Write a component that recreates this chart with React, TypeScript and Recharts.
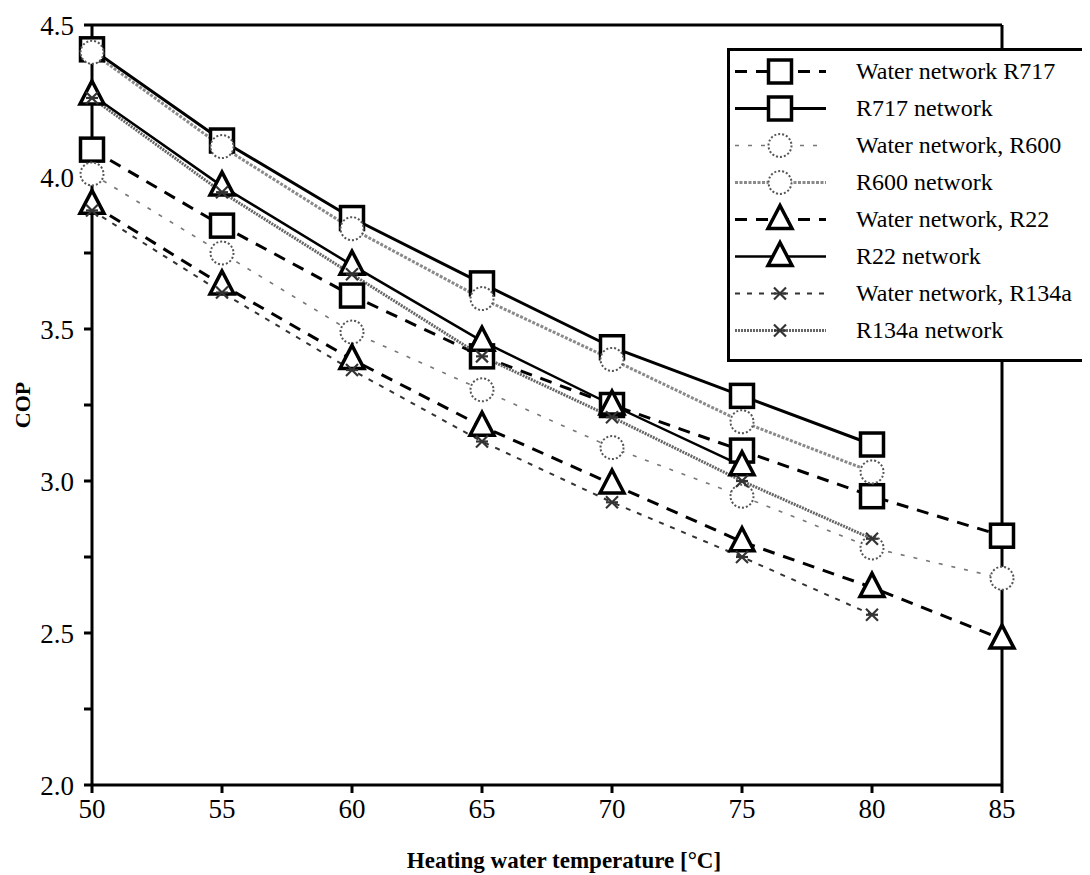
import React from "react";
import { Line, LineChart, ReferenceLine, XAxis, YAxis } from "recharts";

const temps = [50, 55, 60, 65, 70, 75, 80, 85];
const waterR717 = [4.09, 3.84, 3.61, 3.41, 3.25, 3.1, 2.95, 2.82];
const r717Net = [4.42, 4.12, 3.865, 3.65, 3.44, 3.28, 3.12, null];
const waterR600 = [4.01, 3.75, 3.49, 3.3, 3.11, 2.95, 2.78, 2.68];
const r600Net = [4.41, 4.1, 3.83, 3.6, 3.4, 3.195, 3.03, null];
const waterR22 = [3.91, 3.645, 3.4, 3.18, 2.99, 2.8, 2.65, 2.48];
const r22Net = [4.27, 3.97, 3.71, 3.46, 3.25, 3.05, null, null];
const waterR134a = [3.89, 3.62, 3.365, 3.13, 2.93, 2.75, 2.56, null];
const r134aNet = [4.26, 3.95, 3.68, 3.41, 3.21, 3.0, 2.81, null];

const xTicks = [50, 55, 60, 65, 70, 75, 80, 85];
const yTicks = [2.0, 2.25, 2.5, 2.75, 3.0, 3.25, 3.5, 3.75, 4.0, 4.25, 4.5];

const serif = "'Liberation Serif', 'Times New Roman', serif";

type Marker = "square" | "circle" | "triangle" | "star";
type Series = { key: string; name: string; values: (number | null)[]; stroke: string; width: number; dash?: string; marker: Marker };

const series: Series[] = [
  { key: "wR717", name: "Water network R717", values: waterR717, stroke: "#000", width: 3, dash: "12 9", marker: "square" },
  { key: "nR717", name: "R717 network", values: r717Net, stroke: "#000", width: 3, marker: "square" },
  { key: "wR600", name: "Water network, R600", values: waterR600, stroke: "#777", width: 1.6, dash: "4 9", marker: "circle" },
  { key: "nR600", name: "R600 network", values: r600Net, stroke: "#8a8a8a", width: 3, dash: "3 1.5", marker: "circle" },
  { key: "wR22", name: "Water network, R22", values: waterR22, stroke: "#000", width: 3, dash: "12 9", marker: "triangle" },
  { key: "nR22", name: "R22 network", values: r22Net, stroke: "#000", width: 2.5, marker: "triangle" },
  { key: "wR134a", name: "Water network, R134a", values: waterR134a, stroke: "#333", width: 2, dash: "5 7", marker: "star" },
  { key: "nR134a", name: "R134a network", values: r134aNet, stroke: "#666", width: 3, dash: "2 1", marker: "star" },
];

const data = temps.map((t, i) => {
  const row: Record<string, number | null> = { t };
  series.forEach((s) => (row[s.key] = s.values[i]));
  return row;
});

function MarkerShape({ kind, cx, cy }: { kind: Marker; cx: number; cy: number }) {
  if (kind === "square") {
    return <rect x={cx - 11.5} y={cy - 11.5} width={23} height={23} fill="#fff" stroke="#000" strokeWidth={3.5} />;
  }
  if (kind === "circle") {
    return <circle cx={cx} cy={cy} r={11.5} fill="#fff" stroke="#555" strokeWidth={2} strokeDasharray="2 2" />;
  }
  if (kind === "triangle") {
    return (
      <polygon
        points={`${cx},${cy - 14} ${cx - 12},${cy + 9} ${cx + 12},${cy + 9}`}
        fill="#fff"
        stroke="#000"
        strokeWidth={3.5}
      />
    );
  }
  return (
    <g stroke="#333" strokeWidth={2.2}>
      <line x1={cx - 6} y1={cy - 6} x2={cx + 6} y2={cy + 6} />
      <line x1={cx - 6} y1={cy + 6} x2={cx + 6} y2={cy - 6} />
      <line x1={cx - 6} y1={cy} x2={cx + 6} y2={cy} />
    </g>
  );
}

function ChartLegend() {
  return (
    <div
      style={{
        position: "absolute",
        left: 719,
        top: 40,
        background: "#fff",
        border: "3px solid #000",
        width: 420,
        padding: "2px 0 10px 0",
        fontFamily: serif,
        fontSize: 24,
        color: "#000",
      }}
    >
      {series.map((s) => (
        <div key={s.key} style={{ display: "flex", alignItems: "center", height: 37 }}>
          <svg width={95} height={37} style={{ marginLeft: 3, flex: "none" }}>
            <line x1={2} y1={18.5} x2={93} y2={18.5} stroke={s.stroke} strokeWidth={s.width} strokeDasharray={s.dash} />
            <MarkerShape kind={s.marker} cx={47} cy={18.5} />
          </svg>
          <span style={{ marginLeft: 28, whiteSpace: "nowrap" }}>{s.name}</span>
        </div>
      ))}
    </div>
  );
}

const tickStyle = { fontFamily: serif, fontSize: 27, fill: "#000" };

export default function App() {
  return (
    <div style={{ position: "relative", width: 1082, height: 867, overflow: "hidden" }}>
      <LineChart width={1082} height={867} data={data} margin={{ top: 17, right: 88, bottom: 30, left: 8 }}>
        <XAxis
          dataKey="t"
          type="number"
          domain={[50, 85]}
          ticks={xTicks}
          height={60}
          stroke="#000"
          strokeWidth={3}
          tickSize={8}
          tickMargin={6}
          tick={tickStyle}
          label={{
            content: ({ viewBox }: any) => (
              <text
                x={viewBox.x + viewBox.width / 2 + 17}
                y={860}
                textAnchor="middle"
                fontFamily={serif}
                fontSize={23}
                fontWeight="bold"
              >
                Heating water temperature [°C]
              </text>
            ),
          }}
        />
        <YAxis
          type="number"
          domain={[2, 4.5]}
          ticks={yTicks}
          width={76}
          stroke="#000"
          strokeWidth={3}
          tickSize={8}
          tickMargin={10}
          tick={tickStyle}
          interval={0}
          tickFormatter={(v: number) => (Math.abs(v * 2 - Math.round(v * 2)) < 1e-6 ? v.toFixed(1) : "")}
          label={{
            content: ({ viewBox }: any) => (
              <text
                x={14}
                y={viewBox.y + viewBox.height / 2}
                transform={`rotate(-90 14 ${viewBox.y + viewBox.height / 2})`}
                textAnchor="middle"
                dominantBaseline="central"
                fontFamily={serif}
                fontSize={22}
                fontWeight="bold"
              >
                COP
              </text>
            ),
          }}
        />
        <ReferenceLine y={4.5} stroke="#000" strokeWidth={3} />
        <ReferenceLine x={85} stroke="#000" strokeWidth={3} />
        {series.map((s) => (
          <Line
            key={s.key}
            dataKey={s.key}
            name={s.name}
            stroke={s.stroke}
            strokeWidth={s.width}
            strokeDasharray={s.dash}
            isAnimationActive={false}
            dot={(p: any) =>
              p.value == null ? <g key={`${s.key}-${p.index}`} /> : (
                <g key={`${s.key}-${p.index}`}>
                  <MarkerShape kind={s.marker} cx={p.cx} cy={p.cy} />
                </g>
              )
            }
            activeDot={false}
          />
        ))}
      </LineChart>
      <ChartLegend />
    </div>
  );
}
